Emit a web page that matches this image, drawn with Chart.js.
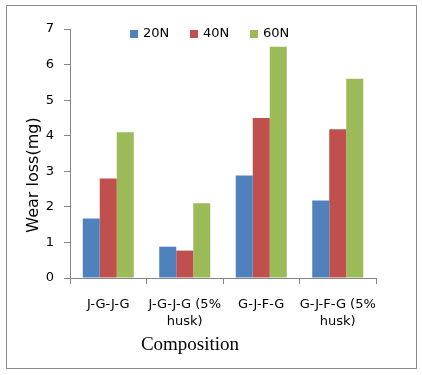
<!DOCTYPE html>
<html>
<head>
<meta charset="utf-8">
<script src="https://cdn.jsdelivr.net/npm/chart.js@4"></script>
<style>
  body { margin: 0; background: #fff; }
  #wrap { position: absolute; left: 0; top: 0; width: 422px; height: 375px; }
</style>
</head>
<body>
<div id="wrap"><canvas id="wearChart"></canvas></div>
<script>
let compositions = [['J-G-J-G'], ['J-G-J-G (5%', 'husk)'], ['G-J-F-G'], ['G-J-F-G (5%', 'husk)']];
let loadLabels = ['20N', '40N', '60N'];
let wear20 = [1.67, 0.88, 2.88, 2.18];
let wear40 = [2.8, 0.77, 4.5, 4.18];
let wear60 = [4.1, 2.1, 6.5, 5.6];
let yTicks = [0, 1, 2, 3, 4, 5, 6, 7];
let barColors = ['#4F81BD', '#C0504D', '#9BBB59'];

let axisGray = '#868686';

// frame around the figure, legend inside the plot, axis titles
let extras = {
  id: 'extras',
  afterDraw(chart) {
    let ctx = chart.ctx;
    let area = chart.chartArea;
    ctx.save();
    ctx.strokeStyle = '#8c8c8c';
    ctx.lineWidth = 1;
    ctx.strokeRect(6.5, 5.5, 410, 363);

    ctx.font = '13px "DejaVu Sans"';
    ctx.textBaseline = 'middle';
    ctx.textAlign = 'left';
    chart.data.datasets.forEach((ds, i) => {
      let x = area.left + 60 + i * 60;
      let y = area.top + 5;
      ctx.fillStyle = ds.backgroundColor;
      ctx.fillRect(x, y - 4, 8, 8);
      ctx.fillStyle = '#000';
      ctx.fillText(ds.label, x + 13, y);
    });

    ctx.font = '19px "Liberation Serif"';
    ctx.textAlign = 'center';
    ctx.fillText('Composition', area.left + 120, 345);

    ctx.translate(34, 175);
    ctx.rotate(-Math.PI / 2);
    ctx.font = '16px "DejaVu Sans"';
    ctx.fillText('Wear loss(mg)', 0, 0);
    ctx.restore();
  }
};

let chartData = {
  labels: compositions,
  datasets: [
    { label: loadLabels[0], data: wear20, backgroundColor: barColors[0] },
    { label: loadLabels[1], data: wear40, backgroundColor: barColors[1] },
    { label: loadLabels[2], data: wear60, backgroundColor: barColors[2] }
  ]
};

let myChart = new Chart(document.getElementById('wearChart').getContext('2d'), {
  type: 'bar',
  data: chartData,
  plugins: [extras],
  options: {
    responsive: true,
    maintainAspectRatio: false,
    animation: false,
    categoryPercentage: 0.667,
    barPercentage: 1,
    layout: {
      padding: { left: 18, right: 46, top: 29, bottom: 20 }
    },
    plugins: {
      legend: { display: false },
      tooltip: { enabled: false }
    },
    scales: {
      x: {
        grid: {
          display: true,
          drawOnChartArea: false,
          color: axisGray,
          tickLength: 6,
          offset: true
        },
        border: { color: axisGray },
        ticks: {
          color: '#000',
          padding: 12,
          maxRotation: 0,
          autoSkip: false,
          font: { family: 'DejaVu Sans', size: 13, lineHeight: 1.3 }
        },
        afterFit(scale) { scale.height = 77; }
      },
      y: {
        min: 0,
        max: 7,
        afterBuildTicks(scale) { scale.ticks = yTicks.map(v => ({ value: v })); },
        grid: {
          display: true,
          drawOnChartArea: false,
          color: axisGray,
          tickLength: 6
        },
        border: { color: axisGray },
        ticks: {
          color: '#000',
          padding: 10,
          font: { family: 'DejaVu Sans', size: 13 }
        },
        afterFit(scale) { scale.width = 52; }
      }
    }
  }
});
</script>
</body>
</html>
